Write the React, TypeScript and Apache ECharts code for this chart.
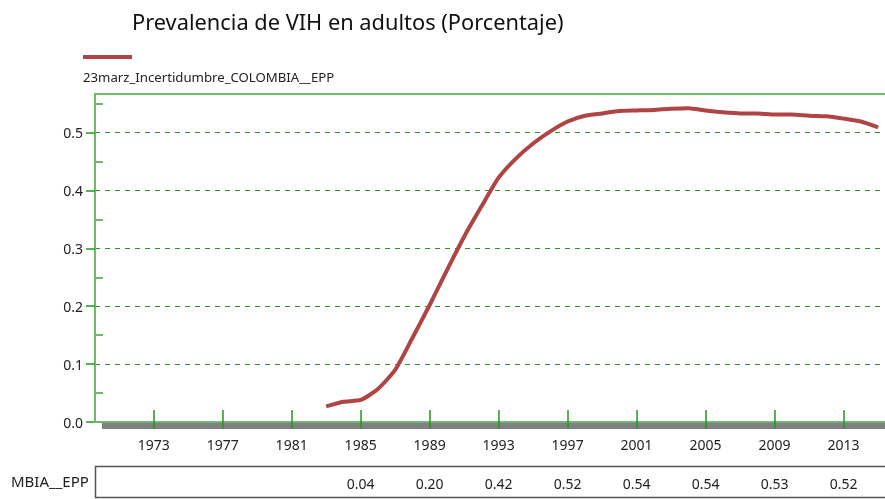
import React, { useEffect, useRef } from "react";
import * as echarts from "echarts";

const years = [
  1983, 1984, 1985, 1986, 1987, 1988, 1989, 1990, 1991, 1992, 1993, 1994, 1995, 1996, 1997, 1998, 1999,
  2000, 2001, 2002, 2003, 2004, 2005, 2006, 2007, 2008, 2009, 2010, 2011, 2012, 2013, 2014, 2015,
];
const prevalence = [
  0.027, 0.035, 0.038, 0.057, 0.09, 0.145, 0.202, 0.262, 0.32, 0.372, 0.422, 0.455, 0.481, 0.502, 0.519,
  0.529, 0.533, 0.537, 0.538, 0.539, 0.541, 0.542, 0.538, 0.535, 0.533, 0.533, 0.531, 0.531, 0.529, 0.528,
  0.524, 0.519, 0.509,
];
const tickYears = [1973, 1977, 1981, 1985, 1989, 1993, 1997, 2001, 2005, 2009, 2013];
const tableYears = [1985, 1989, 1993, 1997, 2001, 2005, 2009, 2013];
const yMajor = [0, 0.1, 0.2, 0.3, 0.4, 0.5];
const yMinor = [0.05, 0.15, 0.25, 0.35, 0.45, 0.55];

const titleText = "Prevalencia de VIH en adultos (Porcentaje)";
const seriesName = "23marz_Incertidumbre_COLOMBIA__EPP";
const tableLabel = "MBIA__EPP";

const FONT = "Noto Sans";
const LIGHT_GREEN = "#6dba6d";
const DARK_GREEN = "#1f9a1f";

export default function App() {
  const ref = useRef<HTMLDivElement>(null);
  useEffect(() => {
    if (!ref.current) return;
    const chart = echarts.init(ref.current, undefined, { renderer: "svg" });
    const xMin = 1969.6;
    const xMax = 2015.4;
    const valueAt = (y: number) => {
      const i = years.indexOf(y);
      return i >= 0 ? prevalence[i].toFixed(2) : "";
    };
    const baseX = { type: "value", min: xMin, max: xMax, splitLine: { show: false } };
    chart.setOption({
      animation: false,
      textStyle: { fontFamily: FONT },
      grid: { left: 95, right: 0, top: 94, bottom: 77 },
      xAxis: [
        {
          ...baseX,
          position: "bottom",
          z: 5,
          axisLine: { show: true, onZero: false, lineStyle: { color: LIGHT_GREEN, width: 2 } },
          axisTick: { show: true, inside: true, length: 12, customValues: tickYears, lineStyle: { color: DARK_GREEN, width: 1.5 } },
          axisLabel: { show: true, customValues: tickYears, margin: 15, color: "#222", fontSize: 14, fontFamily: FONT, formatter: (v: number) => String(v) },
        },
        {
          ...baseX,
          position: "bottom",
          z: 5,
          axisLine: { show: false },
          axisTick: { show: true, inside: false, length: 7, customValues: tickYears, lineStyle: { color: DARK_GREEN, width: 1.5 } },
          axisLabel: { show: false },
        },
        {
          ...baseX,
          position: "bottom",
          offset: 46,
          z: 5,
          axisLine: { show: false },
          axisTick: { show: false },
          axisLabel: { show: true, customValues: tableYears, margin: 8, color: "#222", fontSize: 14, fontFamily: FONT, formatter: (v: number) => valueAt(v) },
        },
        {
          ...baseX,
          position: "top",
          z: 5,
          axisLine: { show: true, onZero: false, lineStyle: { color: LIGHT_GREEN, width: 2 } },
          axisTick: { show: false },
          axisLabel: { show: false },
        },
      ],
      yAxis: [
        {
          type: "value",
          min: 0,
          max: 0.5665,
          interval: 0.1,
          z: 4,
          axisLine: { show: true, onZero: false, lineStyle: { color: LIGHT_GREEN, width: 2 } },
          axisTick: { show: true, inside: false, length: 9, customValues: yMajor, lineStyle: { color: DARK_GREEN, width: 1.5 } },
          axisLabel: { show: true, customValues: yMajor, margin: 12, color: "#222", fontSize: 14, fontFamily: FONT, formatter: (v: number) => v.toFixed(1) },
          splitLine: { show: true, lineStyle: { color: DARK_GREEN, type: [5, 5], width: 1 } },
        },
        {
          type: "value",
          min: 0,
          max: 0.5665,
          position: "left",
          z: 4,
          axisLine: { show: false },
          axisTick: { show: true, inside: true, length: 8, customValues: yMinor, lineStyle: { color: LIGHT_GREEN, width: 2 } },
          axisLabel: { show: false },
          splitLine: { show: false },
        },
      ],
      series: [
        {
          type: "line",
          name: seriesName,
          xAxisIndex: 0,
          yAxisIndex: 0,
          data: years.map((y, i) => [y, prevalence[i]]),
          showSymbol: false,
          symbol: "none",
          smooth: 0.2,
          z: 6,
          lineStyle: { color: "#b04444", width: 4 },
        },
      ],
      graphic: [
        {
          type: "text",
          left: 132,
          top: 10,
          style: { text: titleText, fontSize: 21.8, fontFamily: FONT, fill: "#111" },
        },
        {
          type: "line",
          shape: { x1: 83, y1: 57, x2: 132, y2: 57 },
          style: { stroke: "#b04444", lineWidth: 4 },
        },
        {
          type: "text",
          left: 83,
          top: 70,
          style: { text: seriesName, fontSize: 13.2, fontFamily: FONT, fill: "#222" },
        },
        {
          type: "rect",
          z: 1,
          shape: { x: 102, y: 423, width: 800, height: 6 },
          style: { fill: "#808080" },
        },
        {
          type: "rect",
          shape: { x: 95.5, y: 466.5, width: 820, height: 31 },
          style: { fill: "none", stroke: "#555", lineWidth: 1.5 },
        },
        {
          type: "text",
          left: 11,
          top: 473,
          style: { text: tableLabel, fontSize: 15, fontFamily: FONT, fill: "#222" },
        },
      ],
    });
    return () => chart.dispose();
  }, []);
  return <div ref={ref} style={{ position: "fixed", left: 0, top: 0, width: 885, height: 499 }} />;
}
